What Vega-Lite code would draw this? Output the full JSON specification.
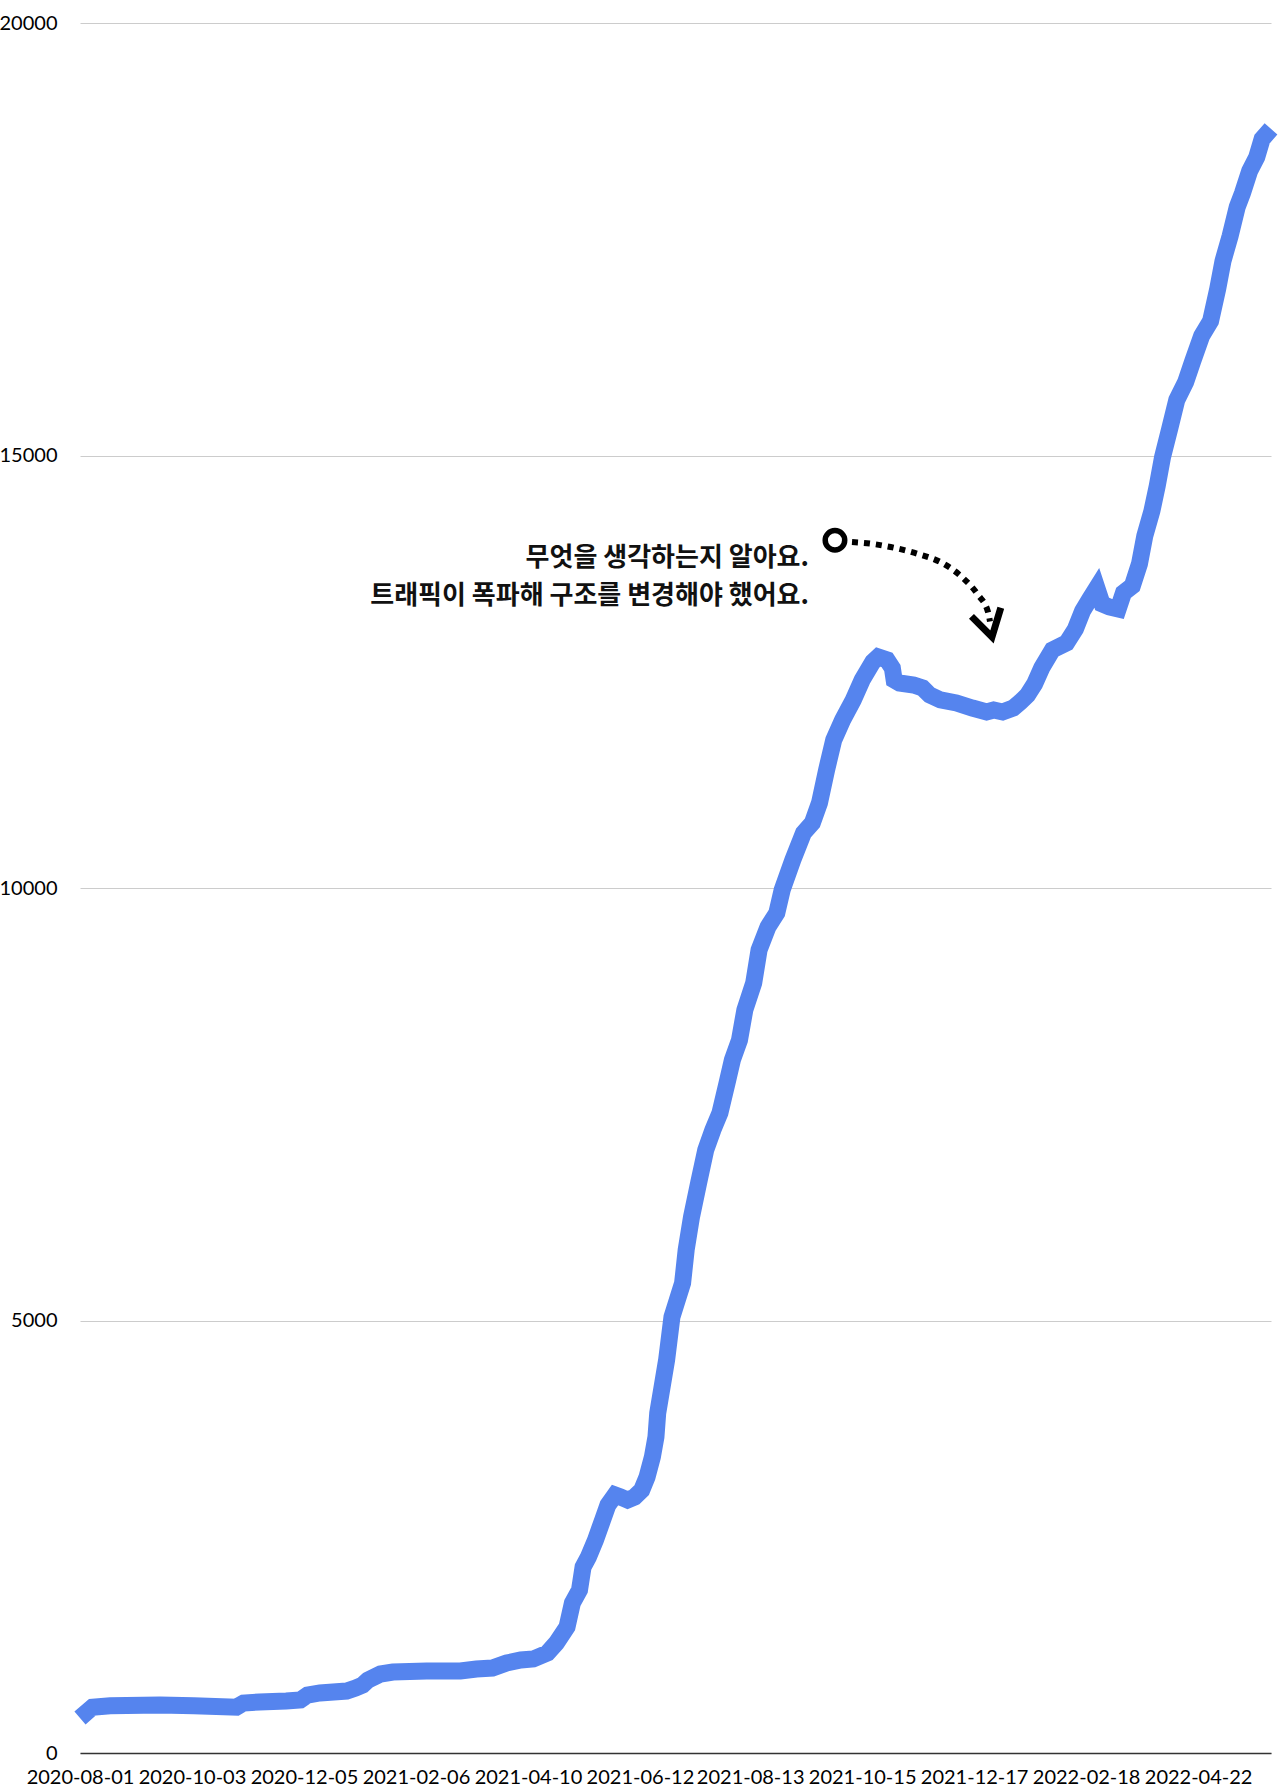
{
  "$schema": "https://vega.github.io/schema/vega-lite/v6.json",
  "width": 1191,
  "height": 1730,
  "autosize": {"type": "none"},
  "padding": {"left": 80, "top": 23, "right": 9, "bottom": 35},
  "background": "white",
  "config": {"view": {"stroke": null}, "font": "Lato"},
  "datasets": {
    "series": [
      {"date": "2020-08-01", "value": 405},
      {"date": "2020-08-08", "value": 530},
      {"date": "2020-08-18", "value": 545},
      {"date": "2020-09-15", "value": 555},
      {"date": "2020-10-04", "value": 545},
      {"date": "2020-10-28", "value": 530},
      {"date": "2020-11-01", "value": 578},
      {"date": "2020-11-10", "value": 590},
      {"date": "2020-11-25", "value": 601},
      {"date": "2020-12-03", "value": 613},
      {"date": "2020-12-07", "value": 670},
      {"date": "2020-12-14", "value": 694},
      {"date": "2020-12-29", "value": 717},
      {"date": "2021-01-03", "value": 751},
      {"date": "2021-01-07", "value": 786},
      {"date": "2021-01-10", "value": 844},
      {"date": "2021-01-17", "value": 913},
      {"date": "2021-01-24", "value": 936},
      {"date": "2021-02-12", "value": 948},
      {"date": "2021-03-03", "value": 948},
      {"date": "2021-03-12", "value": 971},
      {"date": "2021-03-21", "value": 983},
      {"date": "2021-03-29", "value": 1040},
      {"date": "2021-04-06", "value": 1075},
      {"date": "2021-04-13", "value": 1087},
      {"date": "2021-04-21", "value": 1156},
      {"date": "2021-04-26", "value": 1272},
      {"date": "2021-05-02", "value": 1457},
      {"date": "2021-05-05", "value": 1734},
      {"date": "2021-05-09", "value": 1884},
      {"date": "2021-05-11", "value": 2150},
      {"date": "2021-05-14", "value": 2266},
      {"date": "2021-05-18", "value": 2462},
      {"date": "2021-05-22", "value": 2694},
      {"date": "2021-05-25", "value": 2867},
      {"date": "2021-05-29", "value": 2983},
      {"date": "2021-06-01", "value": 2960},
      {"date": "2021-06-05", "value": 2925},
      {"date": "2021-06-09", "value": 2960},
      {"date": "2021-06-13", "value": 3040},
      {"date": "2021-06-16", "value": 3191},
      {"date": "2021-06-19", "value": 3422},
      {"date": "2021-06-21", "value": 3653},
      {"date": "2021-06-22", "value": 3931},
      {"date": "2021-06-27", "value": 4543},
      {"date": "2021-06-30", "value": 5041},
      {"date": "2021-07-06", "value": 5434},
      {"date": "2021-07-08", "value": 5815},
      {"date": "2021-07-11", "value": 6197},
      {"date": "2021-07-15", "value": 6590},
      {"date": "2021-07-19", "value": 6971},
      {"date": "2021-07-23", "value": 7202},
      {"date": "2021-07-27", "value": 7399},
      {"date": "2021-07-31", "value": 7746},
      {"date": "2021-08-03", "value": 8012},
      {"date": "2021-08-07", "value": 8243},
      {"date": "2021-08-10", "value": 8590},
      {"date": "2021-08-15", "value": 8902},
      {"date": "2021-08-18", "value": 9283},
      {"date": "2021-08-23", "value": 9549},
      {"date": "2021-08-28", "value": 9711},
      {"date": "2021-08-31", "value": 9977},
      {"date": "2021-09-06", "value": 10324},
      {"date": "2021-09-12", "value": 10636},
      {"date": "2021-09-17", "value": 10752},
      {"date": "2021-09-21", "value": 10983},
      {"date": "2021-09-25", "value": 11365},
      {"date": "2021-09-29", "value": 11711},
      {"date": "2021-10-04", "value": 11942},
      {"date": "2021-10-10", "value": 12174},
      {"date": "2021-10-15", "value": 12405},
      {"date": "2021-10-21", "value": 12613},
      {"date": "2021-10-24", "value": 12671},
      {"date": "2021-10-29", "value": 12636},
      {"date": "2021-11-01", "value": 12543},
      {"date": "2021-11-02", "value": 12405},
      {"date": "2021-11-05", "value": 12370},
      {"date": "2021-11-13", "value": 12347},
      {"date": "2021-11-18", "value": 12312},
      {"date": "2021-11-22", "value": 12231},
      {"date": "2021-11-28", "value": 12174},
      {"date": "2021-12-07", "value": 12139},
      {"date": "2021-12-16", "value": 12081},
      {"date": "2021-12-24", "value": 12035},
      {"date": "2021-12-28", "value": 12058},
      {"date": "2022-01-02", "value": 12035},
      {"date": "2022-01-08", "value": 12081},
      {"date": "2022-01-12", "value": 12150},
      {"date": "2022-01-16", "value": 12231},
      {"date": "2022-01-20", "value": 12359},
      {"date": "2022-01-24", "value": 12544},
      {"date": "2022-01-30", "value": 12752},
      {"date": "2022-02-07", "value": 12833},
      {"date": "2022-02-12", "value": 12995},
      {"date": "2022-02-16", "value": 13203},
      {"date": "2022-02-20", "value": 13340},
      {"date": "2022-02-24", "value": 13470},
      {"date": "2022-02-27", "value": 13284},
      {"date": "2022-03-03", "value": 13249},
      {"date": "2022-03-08", "value": 13226},
      {"date": "2022-03-11", "value": 13411},
      {"date": "2022-03-16", "value": 13492},
      {"date": "2022-03-20", "value": 13746},
      {"date": "2022-03-23", "value": 14070},
      {"date": "2022-03-27", "value": 14358},
      {"date": "2022-03-30", "value": 14648},
      {"date": "2022-04-02", "value": 14983},
      {"date": "2022-04-06", "value": 15307},
      {"date": "2022-04-10", "value": 15642},
      {"date": "2022-04-15", "value": 15850},
      {"date": "2022-04-19", "value": 16093},
      {"date": "2022-04-24", "value": 16382},
      {"date": "2022-04-29", "value": 16555},
      {"date": "2022-05-03", "value": 16925},
      {"date": "2022-05-06", "value": 17249},
      {"date": "2022-05-10", "value": 17538},
      {"date": "2022-05-14", "value": 17873},
      {"date": "2022-05-17", "value": 18035},
      {"date": "2022-05-21", "value": 18289},
      {"date": "2022-05-25", "value": 18451},
      {"date": "2022-05-28", "value": 18659},
      {"date": "2022-06-02", "value": 18775}
    ],
    "arrow": [
      {"date": "2021-10-09T07:00:00Z", "value": 14000},
      {"date": "2021-10-21T02:00:00Z", "value": 13977},
      {"date": "2021-11-02T12:00:00Z", "value": 13931},
      {"date": "2021-11-15T10:00:00Z", "value": 13862},
      {"date": "2021-11-28T22:00:00Z", "value": 13758},
      {"date": "2021-12-10T17:00:00Z", "value": 13584},
      {"date": "2021-12-19T05:00:00Z", "value": 13388},
      {"date": "2021-12-24T19:00:00Z", "value": 13192},
      {"date": "2021-12-25T22:00:00Z", "value": 13080}
    ],
    "head": [
      {"date": "2021-12-15T12:00:00Z", "value": 13140},
      {"date": "2021-12-27T01:00:00Z", "value": 12902},
      {"date": "2022-01-01T00:00:00Z", "value": 13240}
    ],
    "circle": [
      {"date": "2021-09-29T17:00:00Z", "value": 14020}
    ],
    "note": [
      {"date": "2021-09-15T02:00:00Z", "value": 13815, "label": "무엇을 생각하는지 알아요."},
      {"date": "2021-09-15T02:00:00Z", "value": 13376, "label": "트래픽이 폭파해 구조를 변경해야 했어요."}
    ]
  },
  "layer": [
    {
      "data": {"name": "series"},
      "mark": {"type": "line", "color": "#5584ee", "strokeWidth": 17, "strokeCap": "butt", "strokeJoin": "miter"},
      "encoding": {
        "x": {
          "field": "date", "type": "temporal",
          "scale": {"type": "utc", "domain": [{"year": 2020, "month": 8, "date": 1, "utc": true}, {"year": 2022, "month": 6, "date": 2, "utc": true}]},
          "axis": {
            "title": null, "grid": false, "ticks": false, "tickSize": 0,
            "domain": true, "domainColor": "#333333", "domainWidth": 1.5,
            "labelFont": "Lato", "labelFontSize": 20, "labelColor": "#000000",
            "labelPadding": 14, "labelOverlap": false, "labelFlush": false,
            "format": "%Y-%m-%d",
            "values": [
              {"year": 2020, "month": 8, "date": 1, "utc": true},
              {"year": 2020, "month": 10, "date": 3, "utc": true},
              {"year": 2020, "month": 12, "date": 5, "utc": true},
              {"year": 2021, "month": 2, "date": 6, "utc": true},
              {"year": 2021, "month": 4, "date": 10, "utc": true},
              {"year": 2021, "month": 6, "date": 12, "utc": true},
              {"year": 2021, "month": 8, "date": 13, "utc": true},
              {"year": 2021, "month": 10, "date": 15, "utc": true},
              {"year": 2021, "month": 12, "date": 17, "utc": true},
              {"year": 2022, "month": 2, "date": 18, "utc": true},
              {"year": 2022, "month": 4, "date": 22, "utc": true}
            ]
          }
        },
        "y": {
          "field": "value", "type": "quantitative",
          "scale": {"domain": [0, 20000], "nice": false},
          "axis": {
            "title": null, "domain": false, "ticks": false, "tickSize": 0,
            "grid": true, "gridColor": "#cccccc", "gridWidth": 1,
            "values": [0, 5000, 10000, 15000, 20000], "format": "d",
            "labelFont": "Lato", "labelFontSize": 20, "labelColor": "#000000",
            "labelPadding": 23, "labelFlush": false, "labelBaseline": "middle"
          }
        }
      }
    },
    {
      "data": {"name": "arrow"},
      "mark": {"type": "line", "color": "#000000", "strokeWidth": 6, "strokeDash": [6, 6], "interpolate": "monotone", "strokeCap": "butt"},
      "encoding": {
        "x": {"field": "date", "type": "temporal"},
        "y": {"field": "value", "type": "quantitative"}
      }
    },
    {
      "data": {"name": "head"},
      "mark": {"type": "line", "color": "#000000", "strokeWidth": 7, "strokeJoin": "miter", "strokeCap": "butt"},
      "encoding": {
        "x": {"field": "date", "type": "temporal"},
        "y": {"field": "value", "type": "quantitative"}
      }
    },
    {
      "data": {"name": "circle"},
      "mark": {"type": "point", "shape": "circle", "size": 380, "filled": false, "stroke": "#000000", "strokeWidth": 5.5, "fill": "#ffffff", "opacity": 1},
      "encoding": {
        "x": {"field": "date", "type": "temporal"},
        "y": {"field": "value", "type": "quantitative"}
      }
    },
    {
      "data": {"name": "note"},
      "mark": {"type": "text", "align": "right", "baseline": "middle", "font": "Noto Sans CJK KR", "fontSize": 26, "fontWeight": "bold", "color": "#111111"},
      "encoding": {
        "x": {"field": "date", "type": "temporal"},
        "y": {"field": "value", "type": "quantitative"},
        "text": {"field": "label", "type": "nominal"}
      }
    }
  ]
}
